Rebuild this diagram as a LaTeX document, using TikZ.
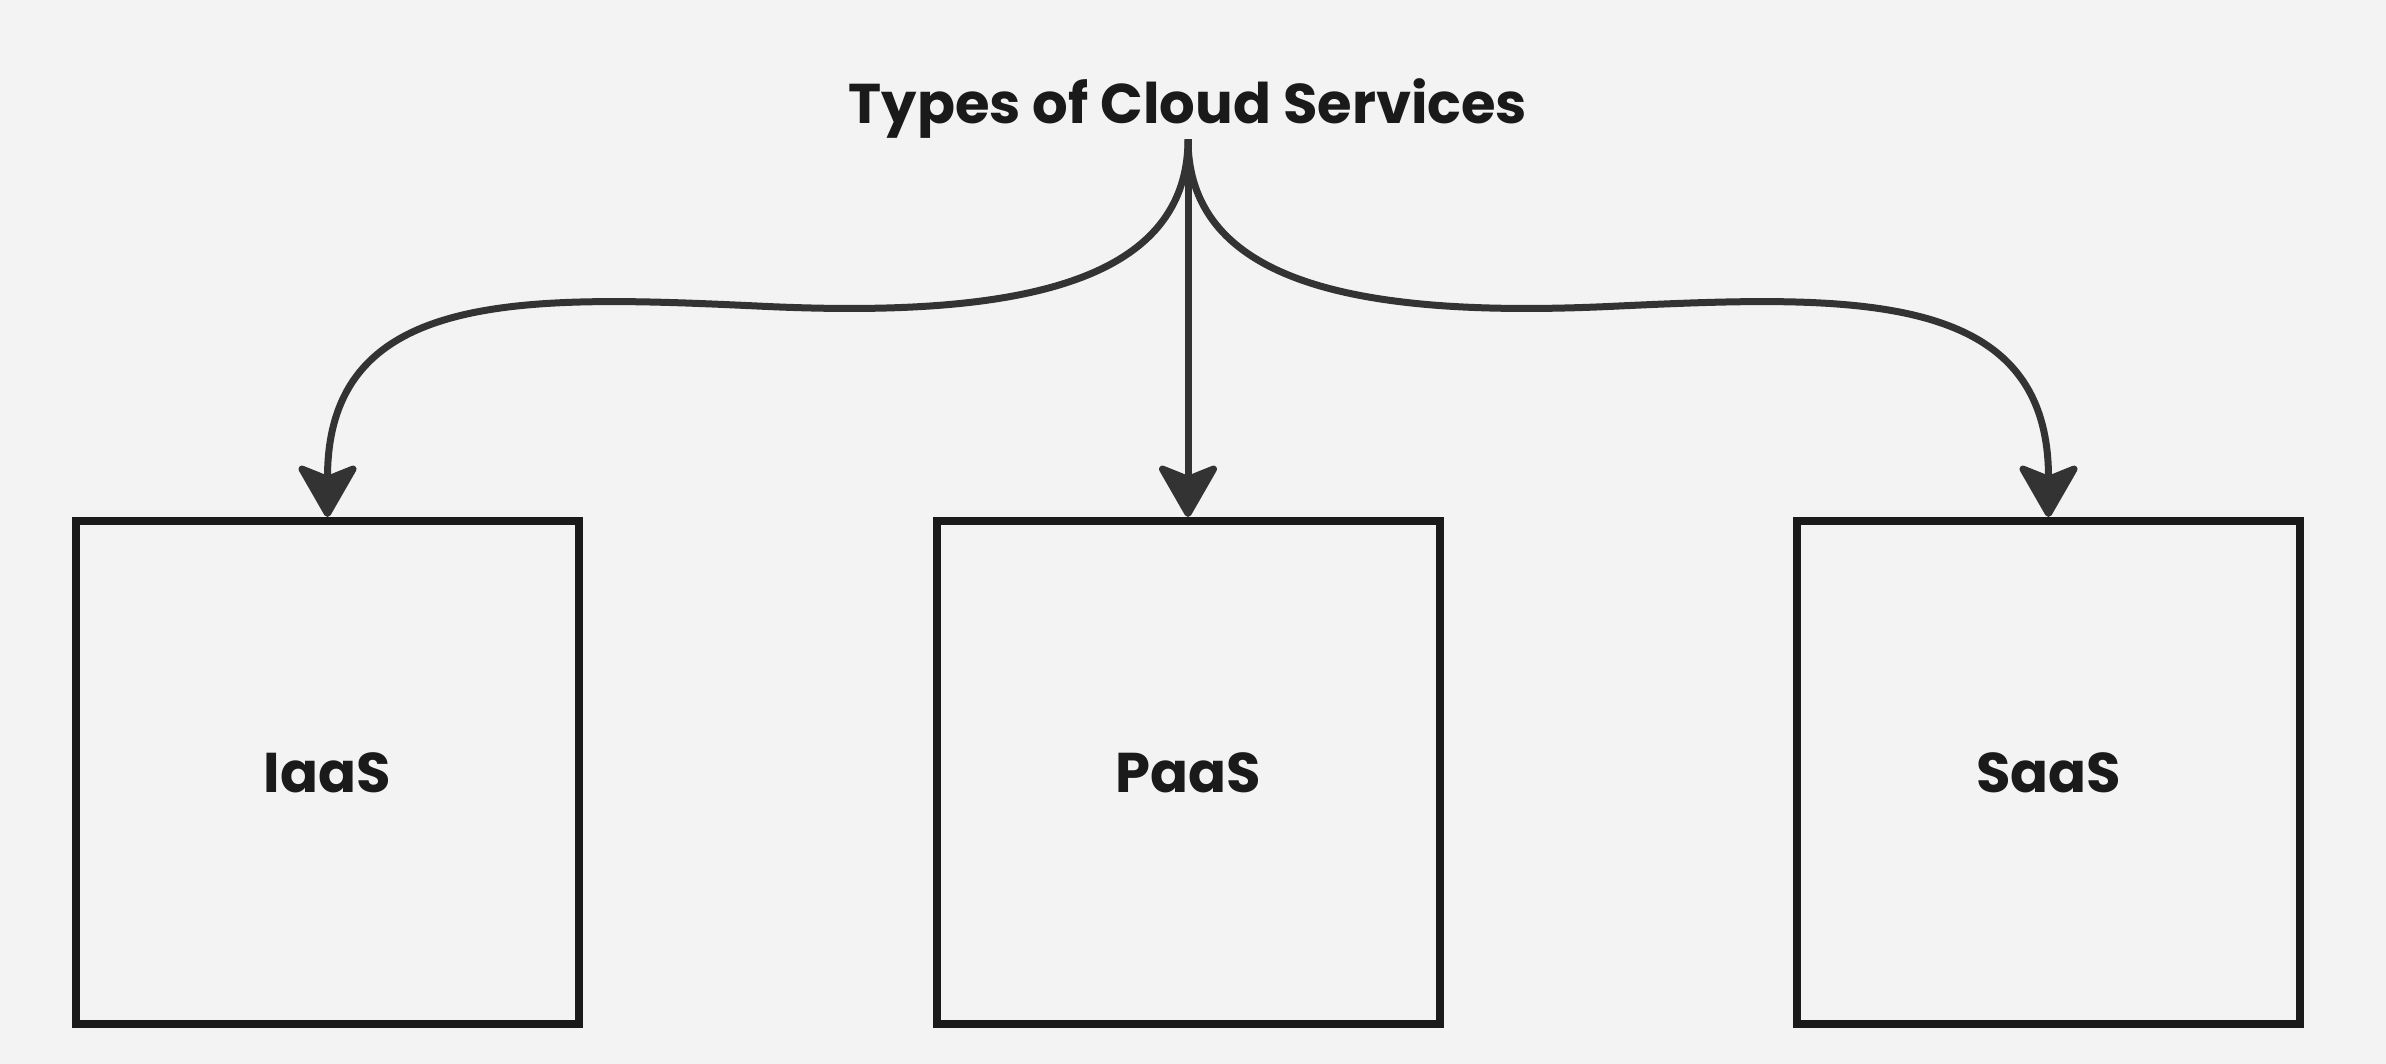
\documentclass[tikz,border=0pt]{standalone}
\usepackage{fontspec}
\setmainfont{Poppins}
\usetikzlibrary{arrows.meta,calc}
\definecolor{bgc}{HTML}{F3F3F3}
\definecolor{boxc}{HTML}{1A1A1A}
\definecolor{arrc}{HTML}{333333}
\tikzset{
  svcbox/.style={draw=boxc, line width=8pt, minimum width=503pt, minimum height=503pt, inner sep=0pt,
    text=boxc, font=\fontsize{56}{68}\selectfont\bfseries},
  titletext/.style={text=boxc, inner sep=0pt, font=\fontsize{56}{68}\selectfont\bfseries},
  conn/.style={draw=arrc, line width=7pt, -{Stealth[length=58pt,width=66pt,inset=13pt,round]}}
}
\begin{document}
\begin{tikzpicture}[x=1pt,y=-1pt]
\fill[bgc] (0,0) rectangle (2386,1064);
\useasboundingbox (0,0) rectangle (2386,1064);
\node[titletext, anchor=base] (title) at (1188,124) {Types of Cloud Services};
\node[svcbox] (iaas) at (327.5,772.5) {IaaS};
\node[svcbox] (paas) at (1188,772.5) {PaaS};
\node[svcbox] (saas) at (2048.5,772.5) {SaaS};
\draw[conn] (title.south) -- (paas.north);
\draw[conn] (title.south) .. controls (1188,290) and (1000,318) .. (757,306)
   .. controls (520,295) and (327.5,290) .. (iaas.north);
\draw[conn] (title.south) .. controls (1188,290) and (1376,318) .. (1619,306)
   .. controls (1856,295) and (2048.5,290) .. (saas.north);
\end{tikzpicture}
\end{document}
